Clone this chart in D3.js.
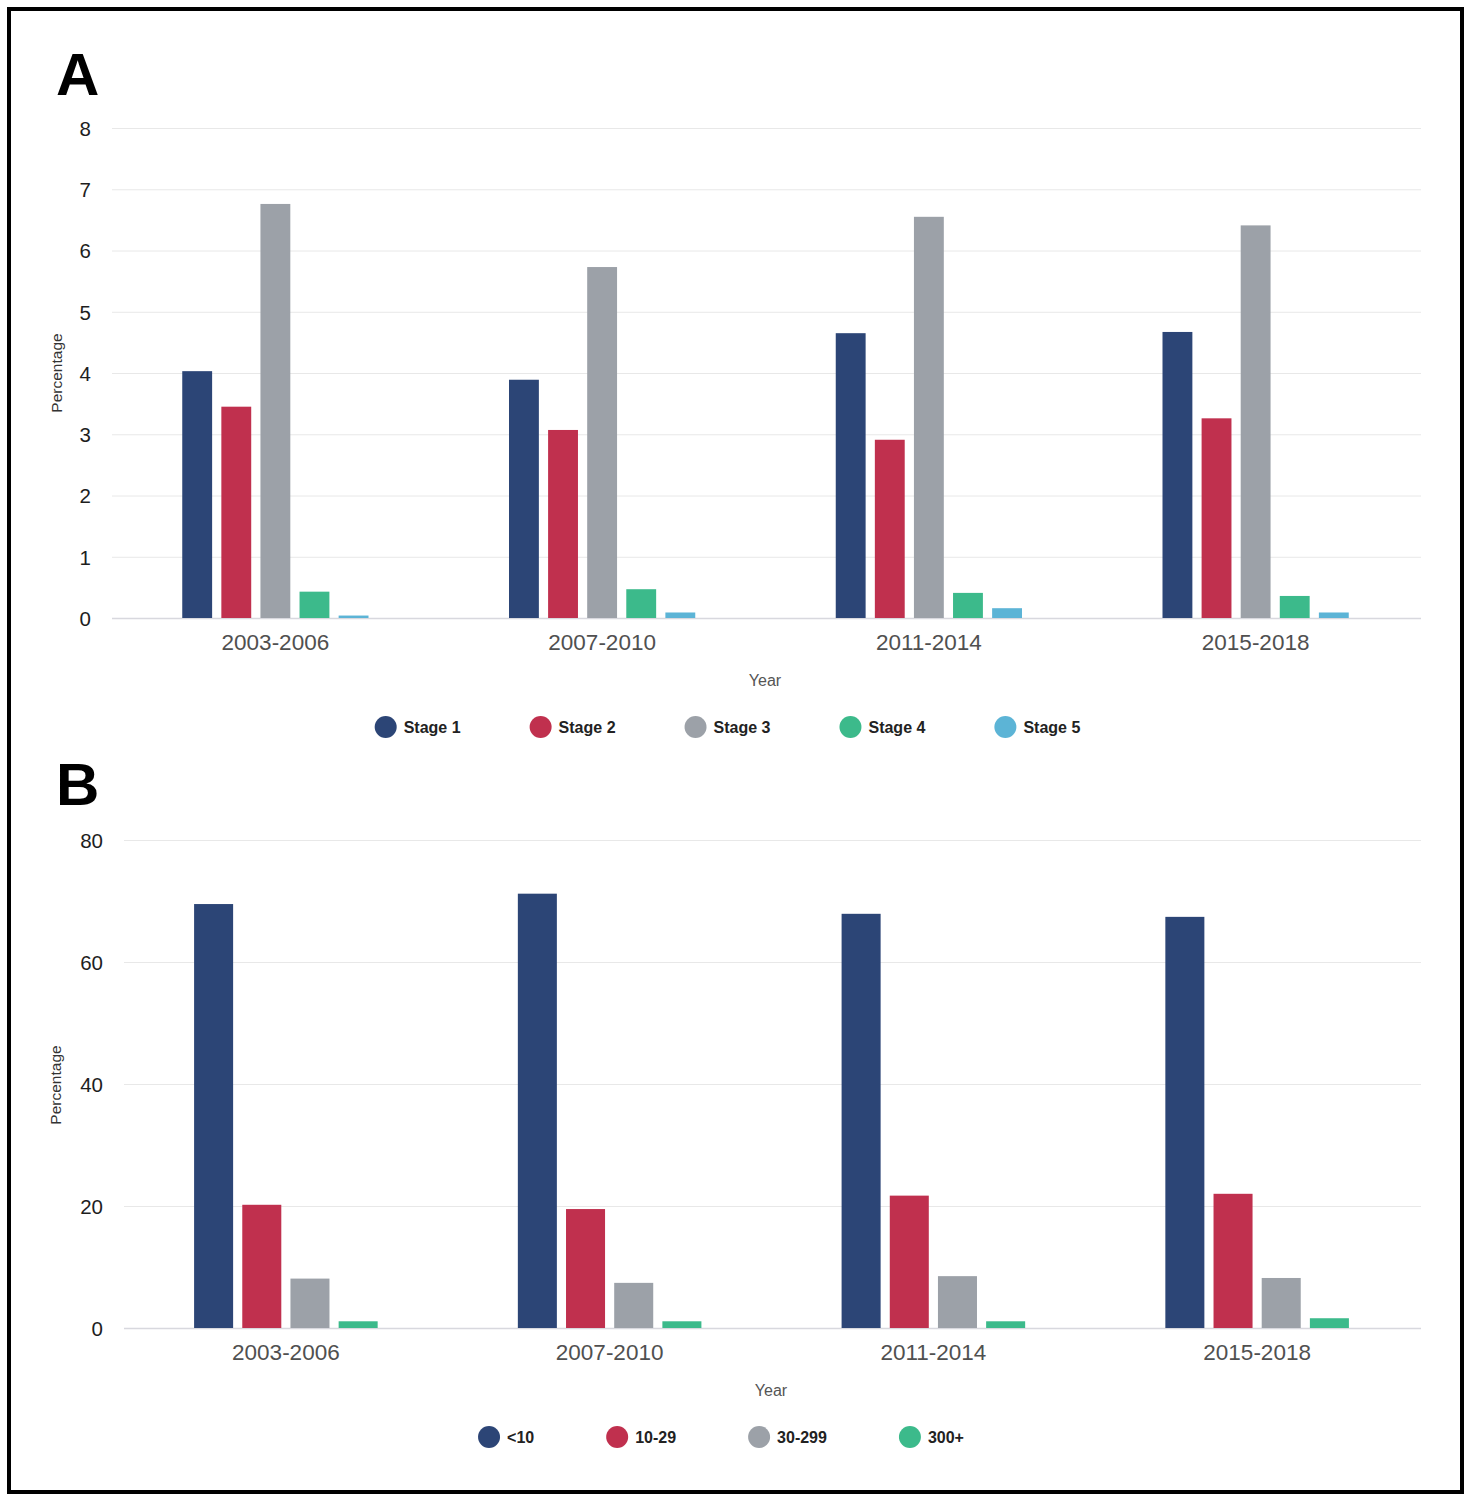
<!DOCTYPE html>
<html>
<head>
<meta charset="utf-8">
<script src="https://cdn.jsdelivr.net/npm/d3@7/dist/d3.min.js"></script>
<style>
  html, body { margin: 0; padding: 0; background: #fff; }
  svg { display: block; }
  text { font-family: "Liberation Sans", Arial, Helvetica, sans-serif; }
</style>
</head>
<body>
<svg id="chart" width="1470" height="1500"></svg>
<script>
// ---------- DATA ----------
const periods = ["2003-2006", "2007-2010", "2011-2014", "2015-2018"];

// Panel A: stages
const stageNames = ["Stage 1", "Stage 2", "Stage 3", "Stage 4", "Stage 5"];
const stage1 = [4.03, 3.89, 4.65, 4.67];
const stage2 = [3.45, 3.07, 2.91, 3.26];
const stage3 = [6.76, 5.73, 6.55, 6.41];
const stage4 = [0.43, 0.47, 0.41, 0.36];
const stage5 = [0.04, 0.09, 0.16, 0.09];
const ticksA = [0, 1, 2, 3, 4, 5, 6, 7, 8];

// Panel B: size groups
const sizeNames = ["<10", "10-29", "30-299", "300+"];
const sizeLt10 = [69.5, 71.2, 67.9, 67.4];
const size10to29 = [20.2, 19.5, 21.7, 22.0];
const size30to299 = [8.1, 7.4, 8.5, 8.2];
const size300plus = [1.1, 1.1, 1.1, 1.6];
const ticksB = [0, 20, 40, 60, 80];

const palette = ["#2c4576", "#c0304e", "#9ca1a8", "#3cba8b", "#5cb4d6"];

// ---------- DRAW ----------
const svg = d3.select("#chart");

// Outer frame
svg.append("rect")
  .attr("x", 9).attr("y", 9).attr("width", 1453).attr("height", 1483)
  .attr("fill", "none").attr("stroke", "#000").attr("stroke-width", 4);

function drawPanel(cfg) {
  const g = svg.append("g");
  const x0 = d3.scaleBand().domain(periods)
    .range([cfg.left, cfg.right])
    .paddingInner(cfg.groupPad).paddingOuter(cfg.groupPad / 2);
  const x1 = d3.scaleBand().domain(cfg.names)
    .range([0, x0.bandwidth()])
    .paddingInner(cfg.barPad).paddingOuter(0);
  const y = d3.scaleLinear().domain([0, cfg.max]).range([cfg.bottom, cfg.top]);

  // Panel letter
  g.append("text").attr("x", 56).attr("y", cfg.letterY)
    .attr("font-size", 60).attr("font-weight", "bold").attr("fill", "#000")
    .text(cfg.letter);

  // gridlines
  g.append("g").selectAll("line").data(cfg.ticks).join("line")
    .attr("x1", cfg.left).attr("x2", cfg.right + 2)
    .attr("y1", d => y(d) + 0.5).attr("y2", d => y(d) + 0.5)
    .attr("stroke", d => d === 0 ? "#d8d8de" : "#e8e8e8")
    .attr("stroke-width", d => d === 0 ? 1.5 : 1);

  // y tick labels
  const yAxis = d3.axisLeft(y).tickValues(cfg.ticks).tickSize(0).tickPadding(0);
  const ya = g.append("g").attr("transform", `translate(${cfg.tickX},0)`).call(yAxis);
  ya.select(".domain").remove();
  ya.selectAll("text")
    .attr("font-family", "'Liberation Sans', Arial, sans-serif")
    .attr("font-size", 20.5).attr("fill", "#1e1e1e").attr("dy", "0.36em");

  // y axis title
  g.append("text")
    .attr("transform", `translate(${cfg.yTitleX},${cfg.yTitleY}) rotate(-90)`)
    .attr("text-anchor", "middle").attr("font-size", 15.5).attr("fill", "#333")
    .text("Percentage");

  // bars
  const series = cfg.names.map((n, i) => ({ name: n, values: cfg.values[i], color: palette[i] }));
  const groups = g.append("g").selectAll("g").data(periods).join("g")
    .attr("transform", d => `translate(${x0(d)},0)`);
  groups.selectAll("rect")
    .data((p, pi) => series.map(s => ({ name: s.name, v: s.values[pi], color: s.color })))
    .join("rect")
    .attr("x", d => x1(d.name))
    .attr("width", x1.bandwidth())
    .attr("y", d => y(d.v))
    .attr("height", d => y(0) - y(d.v))
    .attr("fill", d => d.color);

  // x labels
  const xAxis = d3.axisBottom(x0).tickSize(0).tickPadding(0);
  const xa = g.append("g").attr("transform", `translate(0,${cfg.xLabelY})`).call(xAxis);
  xa.select(".domain").remove();
  xa.selectAll("text")
    .attr("font-family", "'Liberation Sans', Arial, sans-serif")
    .attr("font-size", 22.5).attr("fill", "#505050").attr("dy", "0");

  // x title
  g.append("text").attr("x", cfg.yearX).attr("y", cfg.yearY)
    .attr("text-anchor", "middle").attr("font-size", 16).attr("fill", "#555")
    .text("Year");

  // legend
  const lg = g.append("g");
  const items = lg.selectAll("g").data(series).join("g");
  items.append("circle").attr("r", 11).attr("cy", cfg.legendY).attr("fill", d => d.color);
  items.append("text").attr("y", cfg.legendY + 6)
    .attr("font-size", 16).attr("font-weight", "bold").attr("fill", "#222")
    .text(d => d.name);
  const widths = [];
  items.each(function () {
    const t = d3.select(this).select("text").node().getComputedTextLength();
    widths.push(11 + 18 + t + cfg.legendGap);
  });
  const total = d3.sum(widths);
  let cur = cfg.legendCenter - total / 2;
  items.each(function (d, i) {
    const sel = d3.select(this);
    sel.select("circle").attr("cx", cur + 11);
    sel.select("text").attr("x", cur + 29);
    cur += widths[i];
  });
}

drawPanel({
  letter: "A", letterY: 95,
  names: stageNames,
  values: [stage1, stage2, stage3, stage4, stage5],
  ticks: ticksA, max: 8,
  left: 112, right: 1419, top: 128, bottom: 618,
  groupPad: 0.43, barPad: 0.236,
  tickX: 91, yTitleX: 62, yTitleY: 373,
  xLabelY: 650, yearX: 765, yearY: 686,
  legendY: 727, legendCenter: 762, legendGap: 69
});

drawPanel({
  letter: "B", letterY: 805,
  names: sizeNames,
  values: [sizeLt10, size10to29, size30to299, size300plus],
  ticks: ticksB, max: 80,
  left: 124, right: 1419, top: 840, bottom: 1328,
  groupPad: 0.433, barPad: 0.19,
  tickX: 103, yTitleX: 61, yTitleY: 1085,
  xLabelY: 1360, yearX: 771, yearY: 1396,
  legendY: 1437, legendCenter: 757, legendGap: 72
});
</script>
</body>
</html>
